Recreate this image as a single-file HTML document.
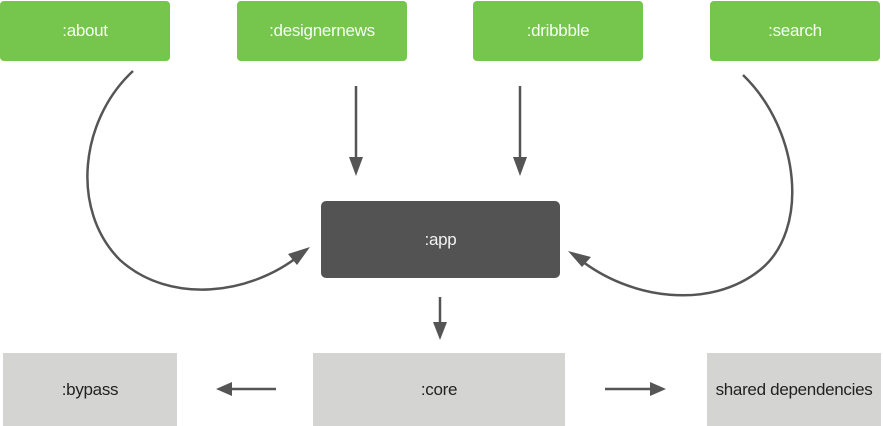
<!DOCTYPE html>
<html><head><meta charset="utf-8"><style>
html,body{margin:0;padding:0;background:#fff;}
body{width:883px;height:426px;position:relative;overflow:hidden;font-family:"Liberation Sans",sans-serif;}
.b{position:absolute;display:flex;align-items:center;justify-content:center;font-size:17px;letter-spacing:-0.3px;}
.g{background:#76c54c;color:#f4fff0;border-radius:4px;top:1px;height:60px;width:170px;}
.d{background:#535353;color:#f2f2f2;border-radius:5px;}
.l{background:#d4d4d2;color:#222;}
svg{position:absolute;left:0;top:0;}
</style></head><body>
<div class="b g" style="left:0;">:about</div>
<div class="b g" style="left:237px;">:designernews</div>
<div class="b g" style="left:473px;">:dribbble</div>
<div class="b g" style="left:710px;">:search</div>
<div class="b d" style="left:321px;top:201px;width:239px;height:77px;">:app</div>
<div class="b l" style="left:3px;top:353px;width:174px;height:73px;">:bypass</div>
<div class="b l" style="left:313px;top:353px;width:252px;height:73px;">:core</div>
<div class="b l" style="left:707px;top:353px;width:174px;height:73px;">shared dependencies</div>
<svg width="883" height="426" viewBox="0 0 883 426">
<g stroke="#555" stroke-width="2.5" fill="none">
<line x1="356" y1="86" x2="356" y2="162"/>
<line x1="520" y1="86" x2="520" y2="162"/>
<line x1="440" y1="297" x2="440" y2="326"/>
<line x1="276" y1="389" x2="230" y2="389"/>
<line x1="605" y1="389" x2="652" y2="389"/>
<path d="M133 71 C 80 120, 70 210, 120 260 C 170 305, 250 295, 300 255"/>
<path d="M743 75 C 800 130, 810 230, 760 270 C 710 310, 630 300, 578 258"/>
</g>
<g fill="#555">
<polygon points="349,157 363,157 356,176"/>
<polygon points="513,157 527,157 520,176"/>
<polygon points="433,322 447,322 440,340"/>
<polygon points="232,382 232,396 216,389"/>
<polygon points="650,382 650,396 666,389"/>
<polygon points="310,247 288,254 297,265"/>
<polygon points="568,251 582,267 591,257"/>
</g>
</svg>
</body></html>
